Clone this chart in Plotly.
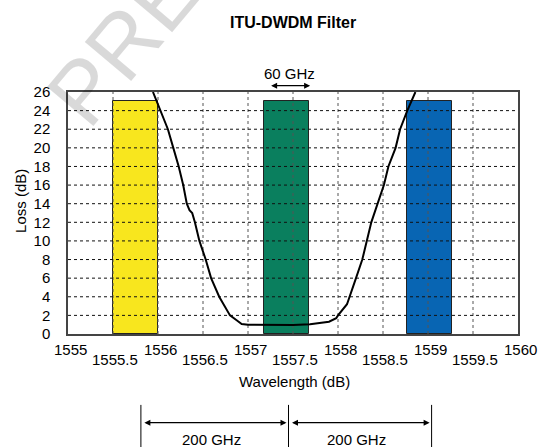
import plotly.graph_objects as go

# ---------------- data ----------------
channel_centers = [1555.755, 1557.43, 1559.02]
channel_loss = [25, 25, 25]
channel_width = 0.5
channel_colors = ["#F8E61E", "#0A7F5E", "#0865B3"]

filter_wl = [1555.944, 1556.03, 1556.11, 1556.17, 1556.23, 1556.28, 1556.32, 1556.35,
             1556.38, 1556.41, 1556.46, 1556.53, 1556.59, 1556.68, 1556.80, 1556.87,
             1556.93, 1557.00, 1557.17, 1557.50, 1557.69, 1557.90, 1557.98, 1558.00,
             1558.10, 1558.13, 1558.20, 1558.27, 1558.32, 1558.37, 1558.44, 1558.51,
             1558.56, 1558.64, 1558.69, 1558.77, 1558.86]
filter_loss = [26, 24, 22, 20, 18, 16, 14, 13.3,
               13, 12, 10, 8, 6, 4, 2, 1.5,
               1.08, 1.0, 0.97, 0.97, 1.04, 1.32, 1.69, 2.0,
               3.2, 4, 6, 8, 10, 12, 14, 16,
               18, 20, 22, 24, 26]

x_ticks = [1555, 1555.5, 1556, 1556.5, 1557, 1557.5, 1558, 1558.5, 1559, 1559.5, 1560]
x_tick_labels = ["1555", "1555.5", "1556", "1556.5", "1557", "1557.5",
                 "1558", "1558.5", "1559", "1559.5", "1560"]
y_ticks = [0, 2, 4, 6, 8, 10, 12, 14, 16, 18, 20, 22, 24, 26]

spacing_marks = [1555.81, 1557.45, 1559.04]
spacing_labels = ["200 GHz", "200 GHz"]
passband_span = [1557.24, 1557.69]
passband_label = "60 GHz"

title_text = "ITU-DWDM Filter"
x_title = "Wavelength (dB)"
y_title = "Loss (dB)"
watermark = "PREVIEW"

FONT = "Liberation Sans, Arial, sans-serif"

fig = go.Figure()

# channel bars
fig.add_trace(go.Bar(
    x=channel_centers, y=channel_loss, width=channel_width,
    marker=dict(color=channel_colors, line=dict(color="#222", width=1)),
    showlegend=False, hoverinfo="skip"))

# grid drawn above the bars
gx, gy = [], []
xmin, xmax = x_ticks[0], x_ticks[-1]
ymin, ymax = y_ticks[0], y_ticks[-1]
for v in x_ticks[1:-1]:
    gx += [v, v, None]
    gy += [ymin, ymax, None]
fig.add_trace(go.Scatter(x=gx, y=gy, mode="lines",
                         line=dict(color="#555", width=1, dash="dot"),
                         showlegend=False, hoverinfo="skip"))
hx, hy = [], []
for v in y_ticks[1:-1]:
    hx += [xmin, xmax, None]
    hy += [v, v, None]
fig.add_trace(go.Scatter(x=hx, y=hy, mode="lines",
                         line=dict(color="#111", width=1, dash="dot"),
                         showlegend=False, hoverinfo="skip"))

# filter curve
fig.add_trace(go.Scatter(x=filter_wl, y=filter_loss, mode="lines",
                         line=dict(color="black", width=2),
                         showlegend=False, hoverinfo="skip"))

def txt(**kw):
    d = dict(showarrow=False, xanchor="center", yanchor="middle",
             font=dict(size=15, color="black", family=FONT))
    d.update(kw)
    return d

annotations = []
# faint watermark (first, so everything else draws over it)
annotations.append(txt(x=0.284, y=1.56, xref="paper", yref="paper", text=watermark,
                       textangle=-50,
                       font=dict(size=88, color="rgba(0,0,0,0.15)", family=FONT)))

# staggered x tick labels
for i, (v, t) in enumerate(zip(x_ticks, x_tick_labels)):
    annotations.append(txt(x=v, y=0, xref="x", yref="paper", text=t, xshift=2,
                           yshift=-15 if i % 2 == 0 else -25))

# titles
annotations.append(txt(x=0.5, y=1.289, xref="paper", yref="paper",
                       text="<b>%s</b>" % title_text,
                       font=dict(size=16, color="black", family=FONT)))
annotations.append(txt(x=0.504, y=-0.198, xref="paper", yref="paper", text=x_title))
annotations.append(txt(x=-0.1044, y=0.55, xref="paper", yref="paper", text=y_title,
                       textangle=-90))

# 60 GHz passband arrow
annotations.append(dict(x=passband_span[1], y=1.026, xref="x", yref="paper",
                        ax=passband_span[0], ay=0, axref="x", ayref="pixel",
                        showarrow=True, arrowhead=2, arrowside="end+start",
                        arrowsize=1, arrowwidth=1.2, arrowcolor="black", text=""))
annotations.append(txt(x=sum(passband_span) / 2, y=1.0785, xref="x", yref="paper",
                       text=passband_label))

# 200 GHz spacing arrows
shapes = []
for m in spacing_marks:
    shapes.append(dict(type="line", xref="x", yref="paper", x0=m, x1=m, y0=-0.293, y1=-0.48,
                       line=dict(color="black", width=1)))
for i, lab in enumerate(spacing_labels):
    a, b = spacing_marks[i], spacing_marks[i + 1]
    annotations.append(dict(x=b, y=-0.3665, xref="x", yref="paper",
                            ax=a, ay=0, axref="x", ayref="pixel",
                            showarrow=True, arrowhead=2, arrowside="end+start",
                            arrowsize=1, arrowwidth=1.2, arrowcolor="black",
                            standoff=2, startstandoff=2, text=""))
    annotations.append(txt(x=(a + b) / 2 - 0.04, y=-0.438, xref="x", yref="paper", text=lab))

fig.update_layout(
    width=539, height=447, autosize=False,
    margin=dict(l=68, r=21, t=92, b=113),
    paper_bgcolor="white", plot_bgcolor="white",
    font=dict(family=FONT, size=15, color="black"),
    annotations=annotations, shapes=shapes,
    bargap=0,
)
fig.update_xaxes(range=[xmin, xmax], showgrid=False, zeroline=False,
                 showticklabels=False, ticks="",
                 showline=True, mirror=True, linecolor="#444", linewidth=1.5)
fig.update_yaxes(range=[ymin, ymax], tickvals=y_ticks, showgrid=False, zeroline=False,
                 ticks="", ticklabelstandoff=13, tickfont=dict(size=15),
                 ticklabeloverflow="allow",
                 showline=True, mirror=True, linecolor="#444", linewidth=1.5)

fig.write_html("out.html", config={"displayModeBar": False},
               post_script="document.body.style.margin='0px';")
